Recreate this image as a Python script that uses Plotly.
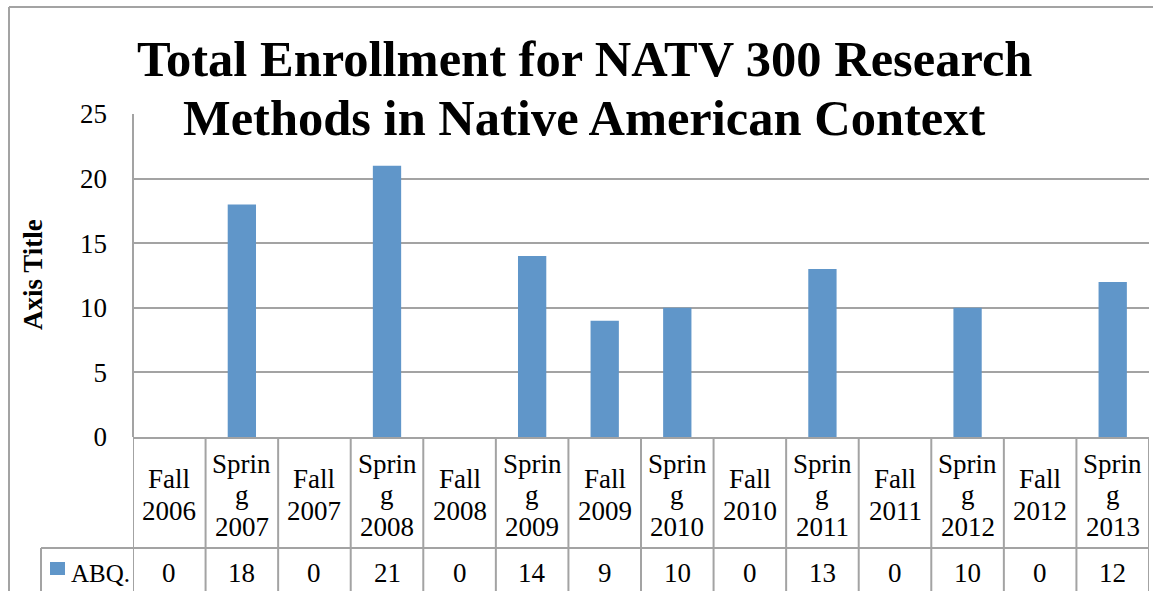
import plotly.graph_objects as go

# ---- data ----
categories = ["Fall 2006", "Spring 2007", "Fall 2007", "Spring 2008", "Fall 2008",
              "Spring 2009", "Fall 2009", "Spring 2010", "Fall 2010", "Spring 2011",
              "Fall 2011", "Spring 2012", "Fall 2012", "Spring 2013"]
category_labels = [["Fall", "2006"], ["Sprin", "g", "2007"], ["Fall", "2007"], ["Sprin", "g", "2008"],
                   ["Fall", "2008"], ["Sprin", "g", "2009"], ["Fall", "2009"], ["Sprin", "g", "2010"],
                   ["Fall", "2010"], ["Sprin", "g", "2011"], ["Fall", "2011"], ["Sprin", "g", "2012"],
                   ["Fall", "2012"], ["Sprin", "g", "2013"]]
abq_values = [0, 18, 0, 21, 0, 14, 9, 10, 0, 13, 0, 10, 0, 12]
series_name = "ABQ."
y_ticks = [0, 5, 10, 15, 20, 25]
title_lines = ["Total Enrollment for NATV 300 Research", "Methods in Native American Context"]
y_title = "Axis Title"

# ---- layout helpers (pixel -> paper) ----
W, H = 1153, 591
L, R, T, B = 133, 4, 114, 154
PW, PH = W - L - R, H - T - B
def px(x):
    return (x - L) / PW
def py(y):
    return (H - B - y) / PH

FONT = "Liberation Serif"
GRID = "#A3A3A3"
BAR = "#6096C9"

fig = go.Figure()
fig.add_trace(go.Bar(x=list(range(len(categories))), y=abq_values, name=series_name,
                     marker=dict(color=BAR, line=dict(width=0)),
                     width=0.39, showlegend=False, hovertext=categories))

shapes = []
ann = []

# title
for i, line in enumerate(title_lines):
    ann.append(dict(text=line, xref="paper", yref="paper", x=px(584), y=py(59 + 59 * i),
                    xanchor="center", yanchor="middle", showarrow=False,
                    font=dict(family=FONT, size=50.5, color="black", weight="bold")))

# y axis title
ann.append(dict(text=y_title, xref="paper", yref="paper", x=px(33), y=py(275),
                xanchor="center", yanchor="middle", showarrow=False, textangle=-90,
                font=dict(family=FONT, size=27, color="black", weight="bold")))

# data table: category labels
line_gap = 31.5
center = 495
for i, lines in enumerate(category_labels):
    n = len(lines)
    for j, t in enumerate(lines):
        yc = center + (j - (n - 1) / 2) * line_gap
        ann.append(dict(text=t, xref="x", yref="paper", x=i, y=py(yc),
                        xanchor="center", yanchor="middle", showarrow=False,
                        font=dict(family=FONT, size=27, color="black")))
    # values row
    ann.append(dict(text=str(abq_values[i]), xref="x", yref="paper", x=i, y=py(573),
                    xanchor="center", yanchor="middle", showarrow=False,
                    font=dict(family=FONT, size=27, color="black")))

# legend key + name
shapes.append(dict(type="rect", xref="paper", yref="paper", x0=px(50), x1=px(65),
                   y0=py(575), y1=py(562), fillcolor=BAR, line=dict(width=0)))
ann.append(dict(text=series_name, xref="paper", yref="paper", x=px(69), y=py(573),
                xanchor="left", yanchor="middle", showarrow=False,
                font=dict(family=FONT, size=25, color="black")))

# table lines
lw = 2
for k in range(len(categories) + 1):
    shapes.append(dict(type="line", xref="x", yref="paper", x0=k - 0.5, x1=k - 0.5,
                       y0=py(437), y1=py(H + 5), line=dict(color=GRID, width=lw)))
shapes.append(dict(type="line", xref="paper", yref="paper", x0=px(41), x1=1,
                   y0=py(548), y1=py(548), line=dict(color=GRID, width=lw)))
shapes.append(dict(type="line", xref="paper", yref="paper", x0=px(41), x1=px(41),
                   y0=py(548), y1=py(H + 5), line=dict(color=GRID, width=lw)))
# y axis line
shapes.append(dict(type="line", xref="paper", yref="paper", x0=0, x1=0,
                   y0=1, y1=0, line=dict(color=GRID, width=lw)))
# outer chart border
shapes.append(dict(type="line", xref="paper", yref="paper", x0=px(9), x1=px(9),
                   y0=py(7), y1=py(H + 5), line=dict(color=GRID, width=lw)))
shapes.append(dict(type="line", xref="paper", yref="paper", x0=px(9), x1=px(W + 5),
                   y0=py(7), y1=py(7), line=dict(color=GRID, width=lw)))

fig.update_layout(
    width=W, height=H,
    margin=dict(l=L, r=R, t=T, b=B, pad=0),
    paper_bgcolor="white", plot_bgcolor="white",
    shapes=shapes, annotations=ann,
    xaxis=dict(range=[-0.5, len(categories) - 0.5], showticklabels=False, showgrid=False,
               zeroline=False, showline=True, linecolor=GRID, linewidth=lw, ticks=""),
    yaxis=dict(range=[0, 25], tickvals=y_ticks, showgrid=True, gridcolor=GRID, gridwidth=lw,
               zeroline=False, showline=False, ticks="", ticklabelstandoff=25,
               tickfont=dict(family=FONT, size=27, color="black")),
    showlegend=False,
)

fig.write_html("out.html", config={"displayModeBar": False},
               post_script="document.body.style.margin='0';document.body.style.overflow='hidden';")
